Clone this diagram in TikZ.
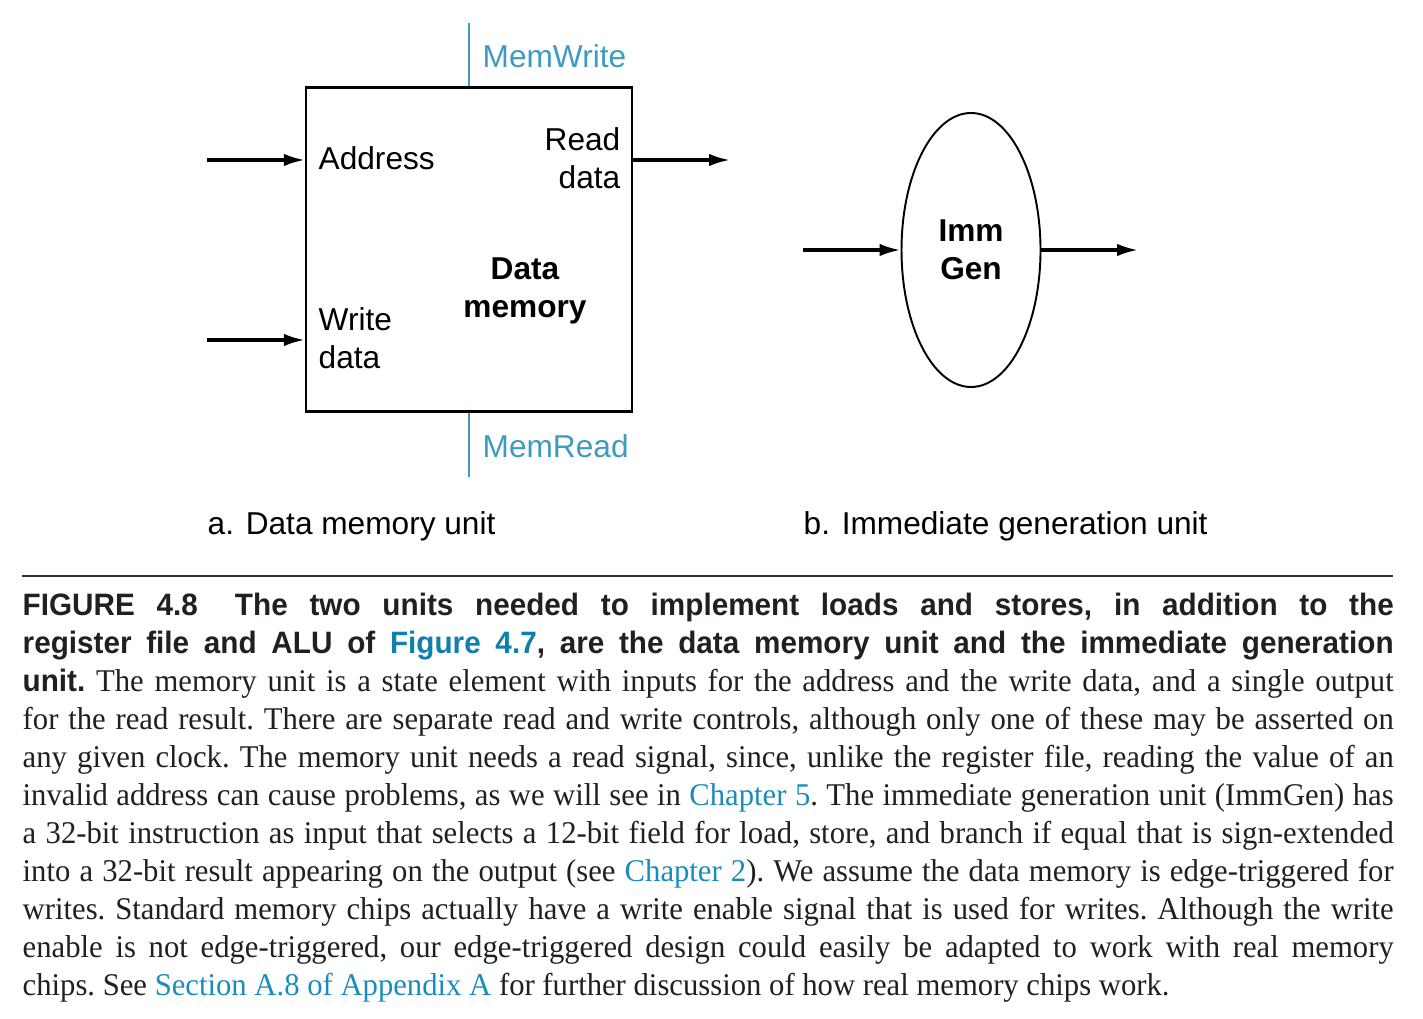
\documentclass[tikz,border=0pt]{standalone}
\usepackage{fontspec}
\setmainfont{Liberation Serif}[FakeStretch=0.97]
\newfontfamily\diagfont{Liberation Sans}
\newfontfamily\headfont[FakeStretch=0.96]{Liberation Sans}
\usepackage{xcolor}
\definecolor{ctrlblue}{HTML}{3E9BC0}
\definecolor{linkblue}{HTML}{1A8CBC}
\definecolor{headlink}{HTML}{0E7FAF}
\definecolor{captext}{HTML}{231F20}
\definecolor{rulegray}{HTML}{333333}
\usetikzlibrary{positioning, calc, shapes.geometric, arrows.meta}

\begin{document}
\begin{tikzpicture}[x=0.1mm, y=-0.1mm,
    sig/.style={-{Latex[length=2.1mm,width=1.25mm]}, line width=0.9pt},
    ctrl/.style={draw=ctrlblue, line width=0.65pt},
    unit/.style={draw, line width=0.65pt, inner sep=0pt},
    port/.style={font=\diagfont\fontsize{9}{10.8}\selectfont, inner sep=0pt},
    title/.style={font=\diagfont\bfseries\fontsize{9}{10.8}\selectfont, inner sep=0pt},
    ctrllabel/.style={port, text=ctrlblue}]
      \useasboundingbox (0,0) rectangle (1423,1019);

      % Data memory unit
      \node[unit, minimum width=32.6mm, minimum height=32.4mm] (dmem) at (469,249.5) {};
      \node[port, anchor=base west] (addr) at (318,170) {Address};
      \node[port, anchor=north east, align=right] (rdata) at (621,127) {Read\\data};
      \node[port, anchor=north west, align=left] (wdata) at (318,307) {Write\\data};
      \node[title, anchor=north, align=center] (dmemlbl) at (525,257) {Data\\memory};

      % Inputs and output
      \coordinate (addrin) at (207,160);
      \coordinate (wdatain) at (207,340);
      \coordinate (rdataout) at (730,160);
      \draw[sig] (addrin) -- (addrin -| dmem.west);
      \draw[sig] (wdatain) -- (wdatain -| dmem.west);
      \draw[sig] (rdataout -| dmem.east) -- (rdataout);

      % Control signals
      \coordinate (mwtop) at (469,23);
      \coordinate (mrbot) at (469,477);
      \draw[ctrl] (mwtop) -- (dmem.north);
      \draw[ctrl] (dmem.south) -- (mrbot);
      \node[ctrllabel, anchor=base west] (memwrite) at (482,68) {MemWrite};
      \node[ctrllabel, anchor=base west] (memread) at (482,458) {MemRead};

      % Immediate generation unit
      \node[ellipse, draw, line width=0.55pt, minimum width=13.9mm, minimum height=27.4mm,
            title, align=center] (immgen) at (971,250) {Imm\\Gen};
      \coordinate (immin) at (803,250);
      \coordinate (immout) at (1138,250);
      \draw[sig] (immin) -- (immgen.west);
      \draw[sig] (immgen.east) -- (immout);

      % Sub-captions
      \node[port, anchor=base west] (capa) at (207,535) {a. Data memory unit};
      \node[port, anchor=base west] (capb) at (803,535) {b. Immediate generation unit};

      % Caption
      \coordinate (ruleleft) at (22,576);
      \coordinate (ruleright) at (1393,576);
      \draw[rulegray, line width=0.75pt] (ruleleft) -- (ruleright);
      \node[anchor=base west, inner sep=0pt, text width=137.1mm, align=justify, text=captext,
            font=\fontsize{9}{10.8}\selectfont] (caption) at (22,616) {%
        \frenchspacing\tolerance=9999\hyphenpenalty=10000
        {\headfont\bfseries\fontsize{8.8}{10.8}\selectfont FIGURE 4.8\hspace{1.2em}The two units needed to implement loads and stores, in addition to the\linebreak
        register file and ALU of \textcolor{headlink}{Figure 4.7}, are the data memory unit and the immediate generation\linebreak
        unit.} The memory unit is a state element with inputs for the address and the write data, and a single output\linebreak
        for the read result. There are separate read and write controls, although only one of these may be asserted on\linebreak
        any given clock. The memory unit needs a read signal, since, unlike the register file, reading the value of an\linebreak
        invalid address can cause problems, as we will see in \textcolor{linkblue}{Chapter 5}. The immediate generation unit (ImmGen) has\linebreak
        a 32-bit instruction as input that selects a 12-bit field for load, store, and branch if equal that is sign-extended\linebreak
        into a 32-bit result appearing on the output (see \textcolor{linkblue}{Chapter 2}). We assume the data memory is edge-triggered for\linebreak
        writes. Standard memory chips actually have a write enable signal that is used for writes. Although the write\linebreak
        enable is not edge-triggered, our edge-triggered design could easily be adapted to work with real memory\linebreak
        chips. See \textcolor{linkblue}{Section A.8 of Appendix A} for further discussion of how real memory chips work.};
    \end{tikzpicture}
\end{document}
